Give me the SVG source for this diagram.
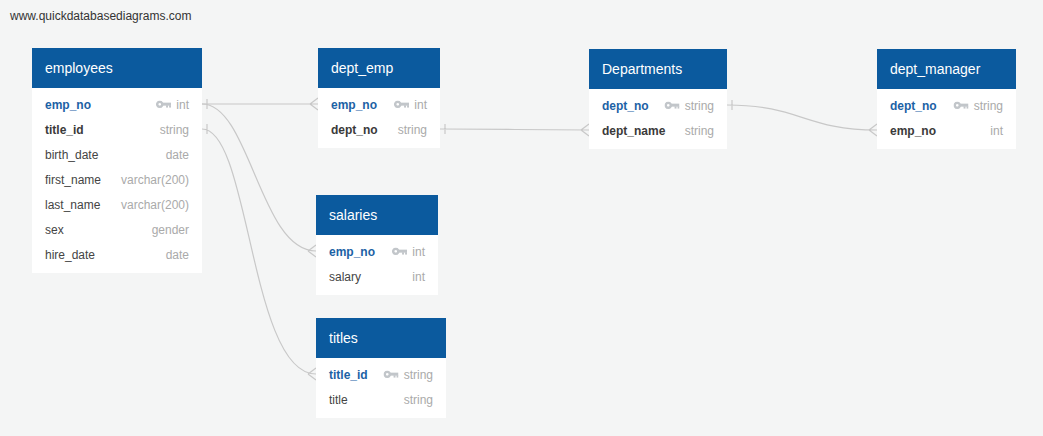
<svg xmlns="http://www.w3.org/2000/svg" xmlns:xlink="http://www.w3.org/1999/xlink" width="1043" height="436" viewBox="0 0 1043 436">
<style>
.bg{fill:#f4f5f5}
.hd{fill:#0b5a9e}
.bd{fill:#ffffff}
.ht{font-family:"Liberation Sans",Arial,sans-serif;font-size:14px;fill:#ffffff}
.pk{font-family:"Liberation Sans",Arial,sans-serif;font-size:12px;font-weight:bold;fill:#1c62a5}
.fk{font-family:"Liberation Sans",Arial,sans-serif;font-size:12px;font-weight:bold;fill:#3a3a3a}
.fd{font-family:"Liberation Sans",Arial,sans-serif;font-size:12px;fill:#444444}
.ty{font-family:"Liberation Sans",Arial,sans-serif;font-size:12px;fill:#aaaaaa;text-anchor:end}
.url{font-family:"Liberation Sans",Arial,sans-serif;font-size:12px;fill:#333333}
.cn{fill:none;stroke:#c8c8c8;stroke-width:1.2}
</style>
<defs>
<symbol id="key" viewBox="0 0 14 7" width="15" height="7.5">
<path fill="#c2c6ca" fill-rule="evenodd" d="M3.5,0 A3.5,3.5 0 1 1 3.49,0 Z M3.5,2.3 A1.2,1.2 0 1 0 3.51,2.3 Z"/>
<rect x="6" y="2" width="8" height="2.8" fill="#c2c6ca"/>
<rect x="9.4" y="4.4" width="1.8" height="2.2" fill="#c2c6ca"/>
<rect x="12.2" y="4.4" width="1.8" height="2.2" fill="#c2c6ca"/>
</symbol>
</defs>
<rect class="bg" x="0" y="0" width="1043" height="436"/>
<text class="url" x="10" y="20">www.quickdatabasediagrams.com</text>

<g id="connectors">
<path class="cn" d="M202,104 L318,104 M207,99 L207,109 M310,104 L318,98 M310,104 L318,110"/>
<path class="cn" d="M202,104 C250,104 260,251 316,251 M308,251 L316,245 M308,251 L316,257"/>
<path class="cn" d="M202,129 C250,129 250,374 316,374 M207,124 L207,134 M308,374 L316,368 M308,374 L316,380"/>
<path class="cn" d="M440,129 C515,129 515,130 589,130 M445,124 L445,134 M581,130 L589,124 M581,130 L589,136"/>
<path class="cn" d="M727,105 C800,105 805,130 877,130 M732,100 L732,110 M869,130 L877,124 M869,130 L877,136"/>
</g>

<g id="employees">
<rect class="hd" x="32" y="48" width="170" height="40"/>
<rect class="bd" x="32" y="88" width="170" height="185"/>
<text class="ht" x="45" y="73">employees</text>
<text class="pk" x="45" y="109">emp_no</text><use xlink:href="#key" x="156" y="100.5"/><text class="ty" x="189" y="109">int</text>
<text class="fk" x="45" y="134">title_id</text><text class="ty" x="189" y="134">string</text>
<text class="fd" x="45" y="159">birth_date</text><text class="ty" x="189" y="159">date</text>
<text class="fd" x="45" y="184">first_name</text><text class="ty" x="189" y="184">varchar(200)</text>
<text class="fd" x="45" y="209">last_name</text><text class="ty" x="189" y="209">varchar(200)</text>
<text class="fd" x="45" y="234">sex</text><text class="ty" x="189" y="234">gender</text>
<text class="fd" x="45" y="259">hire_date</text><text class="ty" x="189" y="259">date</text>
</g>

<g id="dept_emp">
<rect class="hd" x="318" y="48" width="122" height="40"/>
<rect class="bd" x="318" y="88" width="122" height="60"/>
<text class="ht" x="331" y="73">dept_emp</text>
<text class="pk" x="331" y="109">emp_no</text><use xlink:href="#key" x="394" y="100.5"/><text class="ty" x="427" y="109">int</text>
<text class="fk" x="331" y="134">dept_no</text><text class="ty" x="427" y="134">string</text>
</g>

<g id="Departments">
<rect class="hd" x="589" y="49" width="138" height="40"/>
<rect class="bd" x="589" y="89" width="138" height="60"/>
<text class="ht" x="602" y="74">Departments</text>
<text class="pk" x="602" y="110">dept_no</text><use xlink:href="#key" x="664.5" y="101.5"/><text class="ty" x="714" y="110">string</text>
<text class="fk" x="602" y="135">dept_name</text><text class="ty" x="714" y="135">string</text>
</g>

<g id="dept_manager">
<rect class="hd" x="877" y="49" width="139" height="40"/>
<rect class="bd" x="877" y="89" width="139" height="60"/>
<text class="ht" x="890" y="74">dept_manager</text>
<text class="pk" x="890" y="110">dept_no</text><use xlink:href="#key" x="953.5" y="101.5"/><text class="ty" x="1003" y="110">string</text>
<text class="fk" x="890" y="135">emp_no</text><text class="ty" x="1003" y="135">int</text>
</g>

<g id="salaries">
<rect class="hd" x="316" y="195" width="122" height="40"/>
<rect class="bd" x="316" y="235" width="122" height="60"/>
<text class="ht" x="329" y="220">salaries</text>
<text class="pk" x="329" y="256">emp_no</text><use xlink:href="#key" x="392" y="247.5"/><text class="ty" x="425" y="256">int</text>
<text class="fd" x="329" y="281">salary</text><text class="ty" x="425" y="281">int</text>
</g>

<g id="titles">
<rect class="hd" x="316" y="318" width="130" height="40"/>
<rect class="bd" x="316" y="358" width="130" height="60"/>
<text class="ht" x="329" y="343">titles</text>
<text class="pk" x="329" y="379">title_id</text><use xlink:href="#key" x="383.5" y="370.5"/><text class="ty" x="433" y="379">string</text>
<text class="fd" x="329" y="404">title</text><text class="ty" x="433" y="404">string</text>
</g>
</svg>
